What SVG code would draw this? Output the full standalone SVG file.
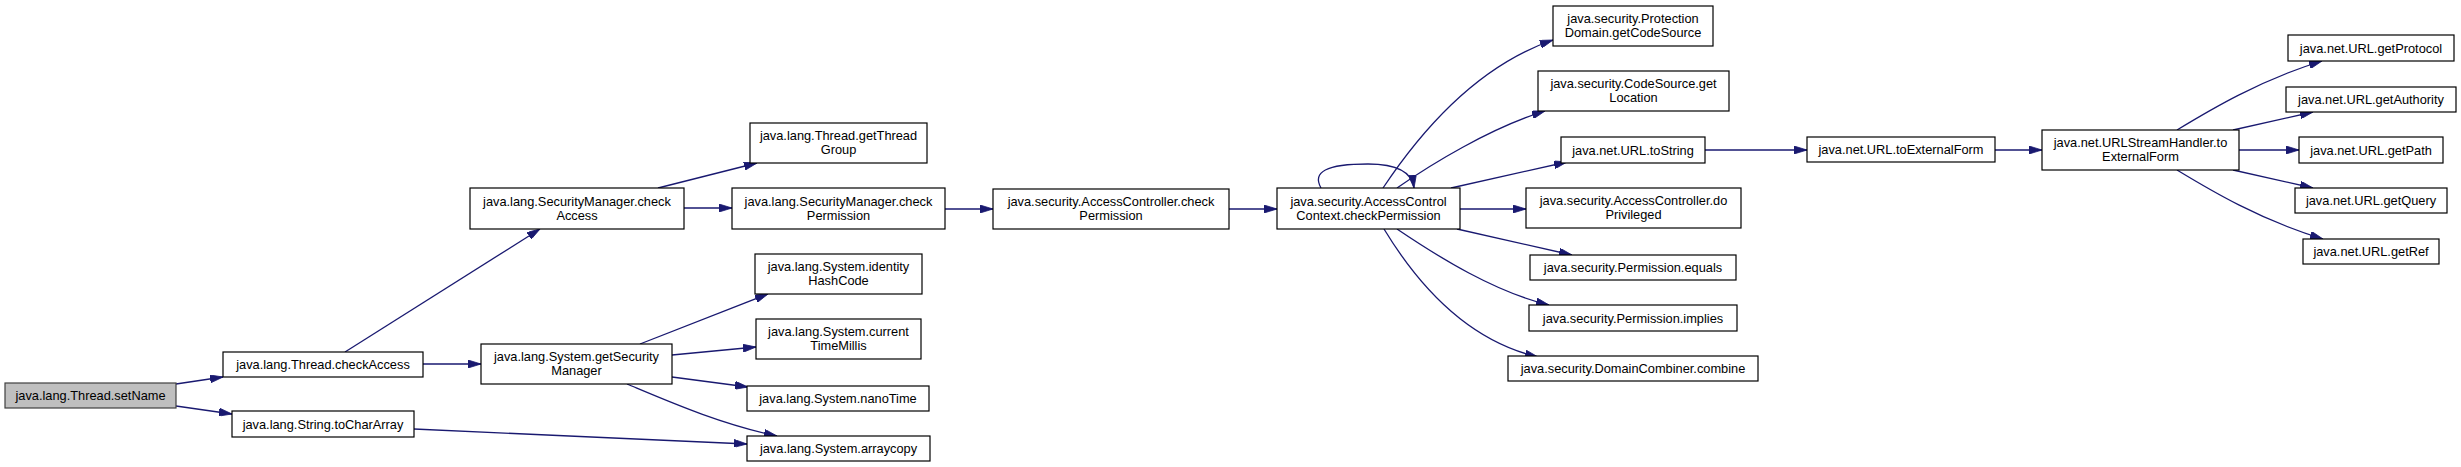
<svg xmlns="http://www.w3.org/2000/svg" width="2461" height="467" viewBox="0 0 2461 467">
<style>
.node rect{fill:#ffffff;stroke:#000000;stroke-width:1.2}
.node.root rect{fill:#bfbfbf;stroke:#404040}
.node text{font-family:"Liberation Sans",Arial,sans-serif;font-size:12.8px;fill:#000000;text-anchor:middle}
.edges path{fill:none;stroke:#191970;stroke-width:1.3;marker-end:url(#arrow)}
</style>
<defs>
<marker id="arrow" viewBox="0 0 13 8" refX="13" refY="4" markerUnits="userSpaceOnUse" markerWidth="13" markerHeight="8" orient="auto">
<path d="M0,0 L13,4 L0,8 z" fill="#191970" stroke="#191970" stroke-width="0.8"/>
</marker>
</defs>
<rect x="0" y="0" width="2461" height="467" fill="#ffffff"/>
<g id="edges" class="edges">
<path d="M176,384 L223,377"/>
<path d="M176,406 L232,414"/>
<path d="M345,352 L540,229"/>
<path d="M423,364 L481,364"/>
<path d="M658,188 L757,163"/>
<path d="M684,208 L732,208"/>
<path d="M640,344 L768,294"/>
<path d="M672,355 L756,347"/>
<path d="M672,377 L748,387"/>
<path d="M627,384 C670,402 720,424 777,436"/>
<path d="M414,429 L747,444"/>
<path d="M945,209 L993,209"/>
<path d="M1229,209 L1277,209"/>
<path d="M1321,188 C1312,172 1326,164 1368,164 C1398,164 1412,172 1414,188"/>
<path d="M1383,188 C1425,125 1480,65 1553,40"/>
<path d="M1397,188 C1430,165 1490,128 1545,111"/>
<path d="M1451,188 L1567,162"/>
<path d="M1460,209 L1526,209"/>
<path d="M1457,229 L1572,255"/>
<path d="M1397,229 C1440,258 1495,292 1549,305"/>
<path d="M1384,229 C1415,280 1465,340 1538,357"/>
<path d="M1705,150 L1807,150"/>
<path d="M1995,150 L2042,150"/>
<path d="M2177,130 C2210,110 2260,80 2322,61"/>
<path d="M2233,130 L2313,112"/>
<path d="M2239,150 L2299,150"/>
<path d="M2233,170 L2313,188"/>
<path d="M2177,170 C2210,190 2260,220 2323,239"/>
</g>
<g id="n_setName" class="node root"><rect x="5" y="383" width="171" height="25"/><text x="90.5" y="400">java.lang.Thread.setName</text></g>
<g id="n_checkAccess" class="node"><rect x="223" y="352" width="200" height="25"/><text x="323" y="369">java.lang.Thread.checkAccess</text></g>
<g id="n_toCharArray" class="node"><rect x="232" y="411" width="182" height="26"/><text x="323" y="428.5">java.lang.String.toCharArray</text></g>
<g id="n_smCheckAccess" class="node"><rect x="470" y="188" width="214" height="41"/><text x="577" y="205.5">java.lang.SecurityManager.check</text><text x="577" y="219.5">Access</text></g>
<g id="n_getSecurityManager" class="node"><rect x="481" y="344" width="191" height="40"/><text x="576.5" y="361">java.lang.System.getSecurity</text><text x="576.5" y="375">Manager</text></g>
<g id="n_getThreadGroup" class="node"><rect x="750" y="123" width="177" height="40"/><text x="838.5" y="140">java.lang.Thread.getThread</text><text x="838.5" y="154">Group</text></g>
<g id="n_smCheckPermission" class="node"><rect x="732" y="188" width="213" height="41"/><text x="838.5" y="205.5">java.lang.SecurityManager.check</text><text x="838.5" y="219.5">Permission</text></g>
<g id="n_identityHashCode" class="node"><rect x="755" y="254" width="167" height="40"/><text x="838.5" y="271">java.lang.System.identity</text><text x="838.5" y="285">HashCode</text></g>
<g id="n_currentTimeMillis" class="node"><rect x="756" y="319" width="165" height="40"/><text x="838.5" y="336">java.lang.System.current</text><text x="838.5" y="350">TimeMillis</text></g>
<g id="n_nanoTime" class="node"><rect x="747" y="386" width="182" height="25"/><text x="838" y="403">java.lang.System.nanoTime</text></g>
<g id="n_arraycopy" class="node"><rect x="747" y="436" width="183" height="25"/><text x="838.5" y="453">java.lang.System.arraycopy</text></g>
<g id="n_acCheckPermission" class="node"><rect x="993" y="189" width="236" height="40"/><text x="1111" y="206">java.security.AccessController.check</text><text x="1111" y="220">Permission</text></g>
<g id="n_accCheckPermission" class="node"><rect x="1277" y="188" width="183" height="41"/><text x="1368.5" y="205.5">java.security.AccessControl</text><text x="1368.5" y="219.5">Context.checkPermission</text></g>
<g id="n_pdGetCodeSource" class="node"><rect x="1553" y="6" width="160" height="40"/><text x="1633" y="23">java.security.Protection</text><text x="1633" y="37">Domain.getCodeSource</text></g>
<g id="n_csGetLocation" class="node"><rect x="1538" y="71" width="191" height="40"/><text x="1633.5" y="88">java.security.CodeSource.get</text><text x="1633.5" y="102">Location</text></g>
<g id="n_urlToString" class="node"><rect x="1561" y="137" width="144" height="26"/><text x="1633" y="154.5">java.net.URL.toString</text></g>
<g id="n_doPrivileged" class="node"><rect x="1526" y="188" width="215" height="40"/><text x="1633.5" y="205">java.security.AccessController.do</text><text x="1633.5" y="219">Privileged</text></g>
<g id="n_permEquals" class="node"><rect x="1530" y="255" width="206" height="25"/><text x="1633" y="272">java.security.Permission.equals</text></g>
<g id="n_permImplies" class="node"><rect x="1529" y="305" width="208" height="26"/><text x="1633" y="322.5">java.security.Permission.implies</text></g>
<g id="n_dcCombine" class="node"><rect x="1508" y="356" width="250" height="25"/><text x="1633" y="373">java.security.DomainCombiner.combine</text></g>
<g id="n_urlToExternalForm" class="node"><rect x="1807" y="137" width="188" height="25"/><text x="1901" y="154">java.net.URL.toExternalForm</text></g>
<g id="n_ushToExternalForm" class="node"><rect x="2042" y="130" width="197" height="40"/><text x="2140.5" y="147">java.net.URLStreamHandler.to</text><text x="2140.5" y="161">ExternalForm</text></g>
<g id="n_getProtocol" class="node"><rect x="2288" y="35" width="166" height="26"/><text x="2371" y="52.5">java.net.URL.getProtocol</text></g>
<g id="n_getAuthority" class="node"><rect x="2286" y="87" width="170" height="25"/><text x="2371" y="104">java.net.URL.getAuthority</text></g>
<g id="n_getPath" class="node"><rect x="2299" y="137" width="144" height="26"/><text x="2371" y="154.5">java.net.URL.getPath</text></g>
<g id="n_getQuery" class="node"><rect x="2295" y="188" width="152" height="25"/><text x="2371" y="205">java.net.URL.getQuery</text></g>
<g id="n_getRef" class="node"><rect x="2303" y="239" width="136" height="25"/><text x="2371" y="256">java.net.URL.getRef</text></g>
</svg>
